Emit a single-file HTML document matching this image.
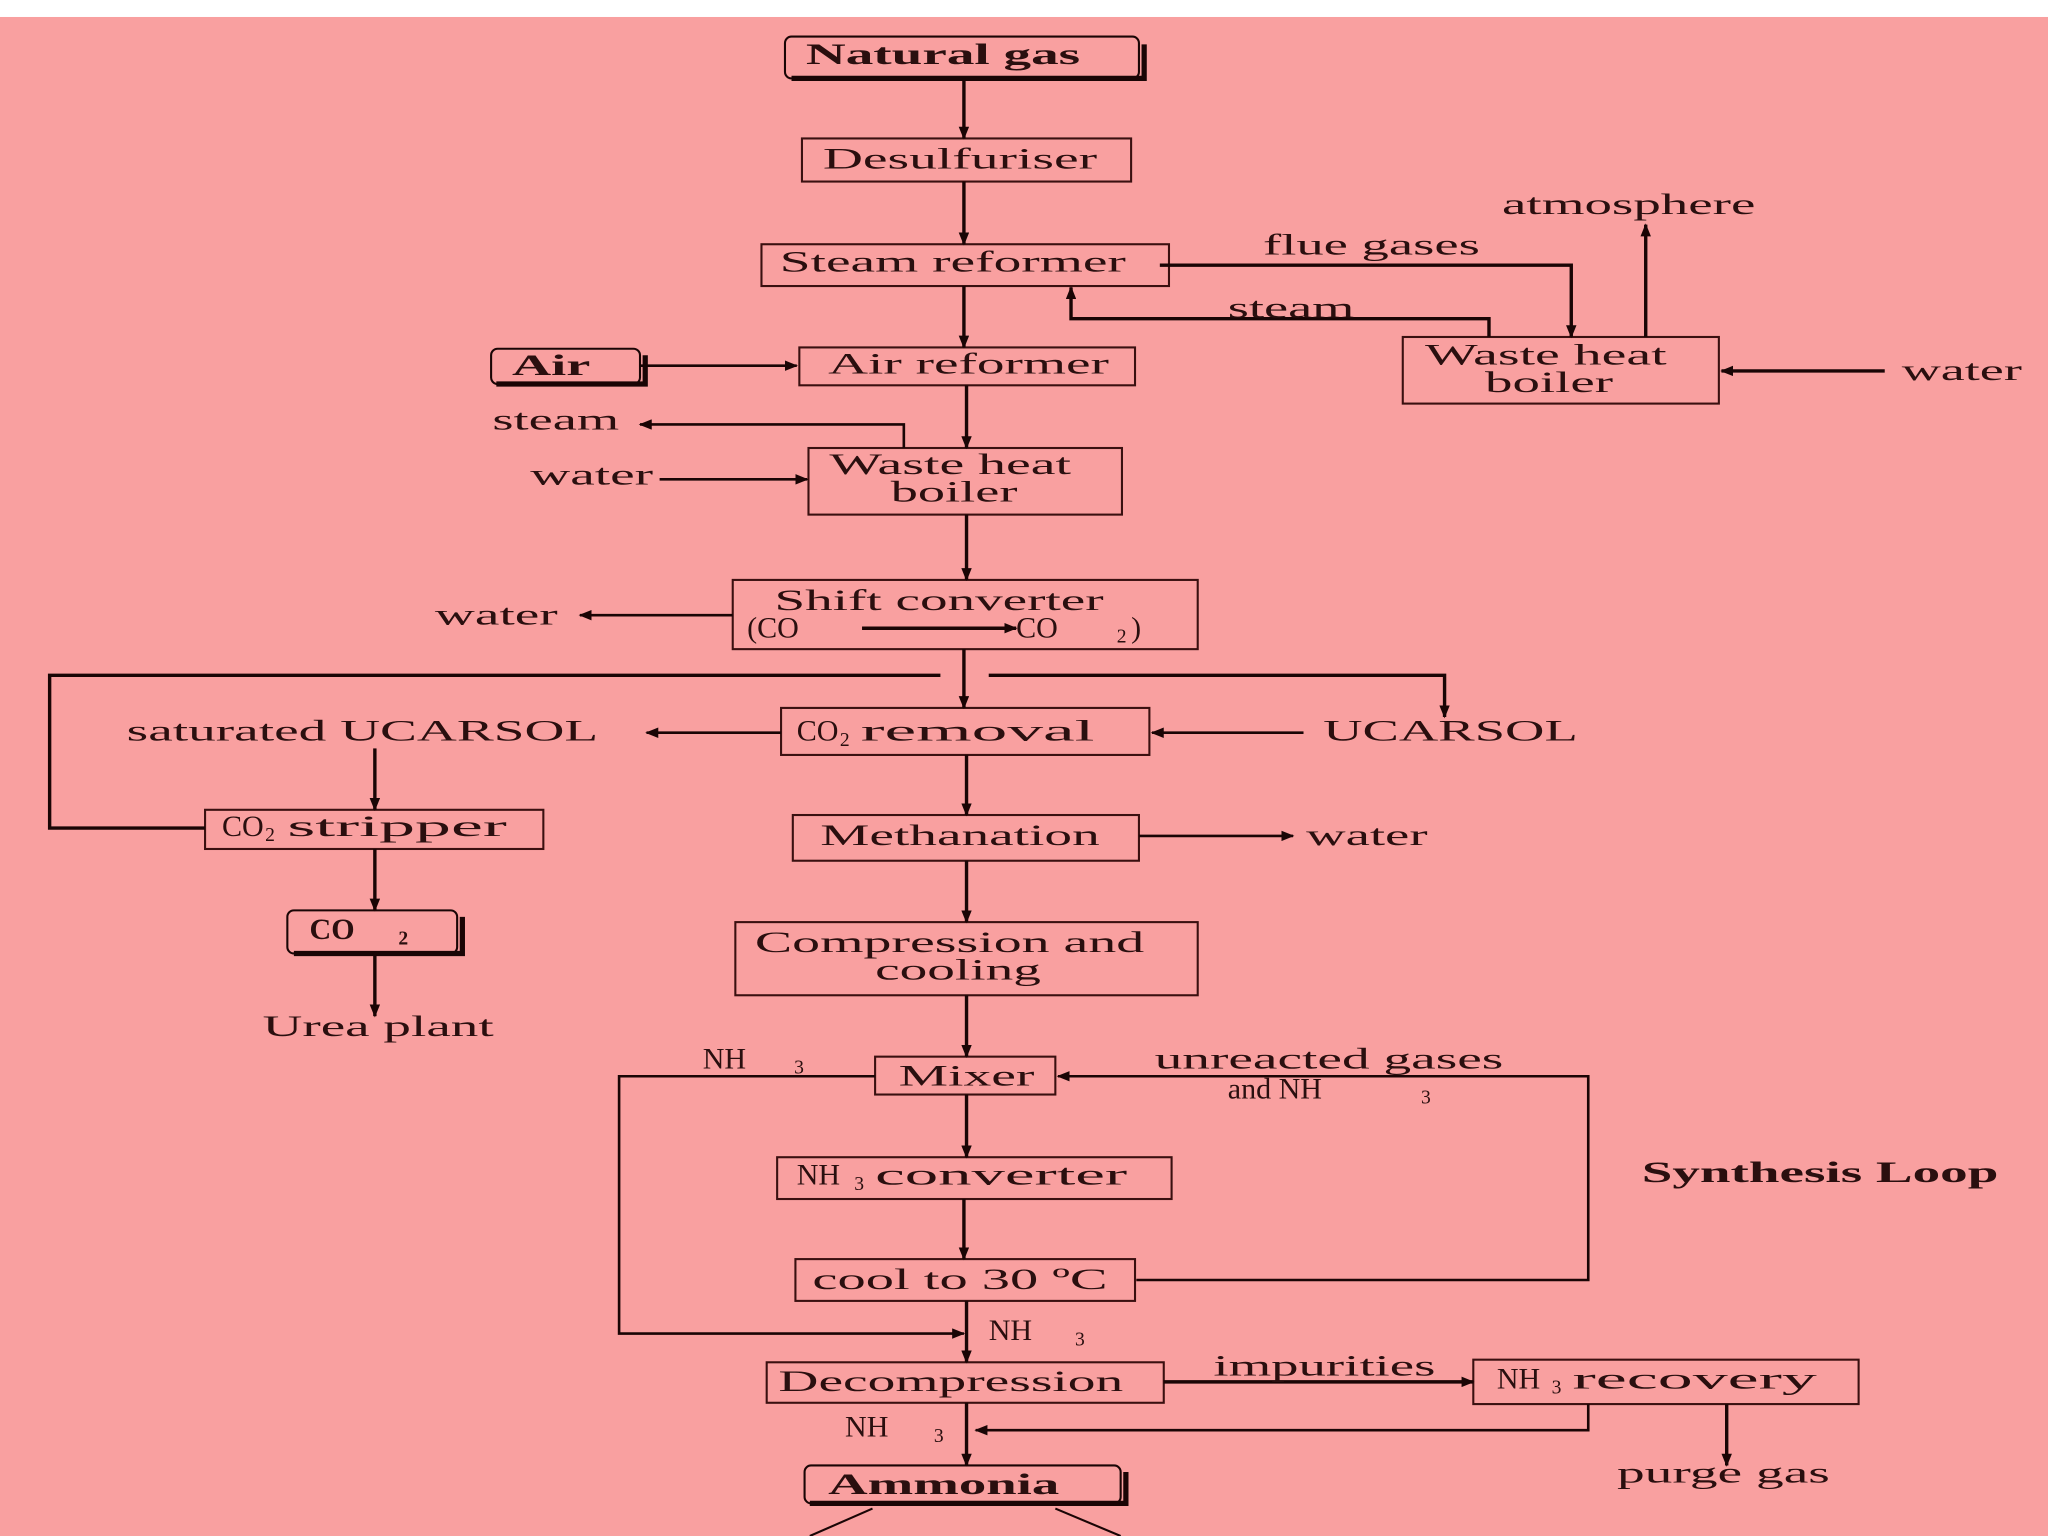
<!DOCTYPE html>
<html><head><meta charset="utf-8"><style>
html,body{margin:0;padding:0;background:#fff;}
svg{display:block;}
text{font-family:"Liberation Serif",serif;font-size:23px;fill:#2a0f0f;}
.b{font-weight:bold;}
.s{font-size:15px;}
</style></head><body>
<svg width="2048" height="1536" viewBox="0 0 1568 1176" xmlns="http://www.w3.org/2000/svg">
<defs>
<marker id="a" markerWidth="10" markerHeight="8" refX="9" refY="4" orient="auto" markerUnits="userSpaceOnUse"><path d="M0,0 L10,4 L0,8 z" fill="#1a0505"/></marker>
</defs>
<rect x="0" y="0" width="1568" height="1176" fill="#fff"/>
<rect x="0" y="13" width="1568" height="1163" fill="#f9a0a0"/>
<g fill="none" stroke="#3a1010" stroke-width="1.6">
<rect x="614" y="106" width="252" height="33"/>
<rect x="583" y="187" width="312" height="32"/>
<rect x="1074" y="258" width="242" height="51"/>
<rect x="612" y="266" width="257" height="29"/>
<rect x="619" y="343" width="240" height="51"/>
<rect x="561" y="444" width="356" height="53"/>
<rect x="598" y="542" width="282" height="36"/>
<rect x="157" y="620" width="259" height="30"/>
<rect x="607" y="624" width="265" height="35"/>
<rect x="563" y="706" width="354" height="56"/>
<rect x="670" y="809" width="138" height="29"/>
<rect x="595" y="886" width="302" height="32"/>
<rect x="609" y="964" width="260" height="32"/>
<rect x="587" y="1043" width="304" height="31"/>
<rect x="1128" y="1041" width="295" height="34"/>
</g>
<!-- rounded shadow boxes -->
<g fill="none" stroke="#1a0505">
<path d="M606,60 L876,60 L876,34" stroke-width="4"/>
<rect x="601" y="28" width="271" height="32" rx="5" stroke-width="1.6"/>
<path d="M380,294 L494,294 L494,272" stroke-width="4"/>
<rect x="376" y="267" width="114" height="27" rx="5" stroke-width="1.6"/>
<path d="M225,730 L354,730 L354,702" stroke-width="4"/>
<rect x="220" y="697" width="130" height="33" rx="5" stroke-width="1.6"/>
<path d="M620,1151 L862,1151 L862,1127" stroke-width="4"/>
<rect x="616" y="1122" width="242" height="29" rx="5" stroke-width="1.6"/>
</g>
<g fill="none" stroke="#1a0505" stroke-width="2.6">
<line x1="738" y1="60" x2="738" y2="106" marker-end="url(#a)"/>
<line x1="738" y1="139" x2="738" y2="187" marker-end="url(#a)"/>
<line x1="738" y1="219" x2="738" y2="266" marker-end="url(#a)"/>
<line x1="740" y1="295" x2="740" y2="343" marker-end="url(#a)"/>
<line x1="740" y1="394" x2="740" y2="444" marker-end="url(#a)"/>
<line x1="738" y1="497" x2="738" y2="542" marker-end="url(#a)"/>
<line x1="740" y1="578" x2="740" y2="624" marker-end="url(#a)"/>
<line x1="740" y1="659" x2="740" y2="706" marker-end="url(#a)"/>
<line x1="740" y1="762" x2="740" y2="809" marker-end="url(#a)"/>
<line x1="740" y1="838" x2="740" y2="886" marker-end="url(#a)"/>
<line x1="738" y1="918" x2="738" y2="964" marker-end="url(#a)"/>
<line x1="740" y1="996" x2="740" y2="1043" marker-end="url(#a)"/>
<line x1="740" y1="1074" x2="740" y2="1122" marker-end="url(#a)"/>
<polyline points="888,203 1203,203 1203,258" marker-end="url(#a)"/>
<polyline points="1140,258 1140,244 820,244 820,220" marker-end="url(#a)"/>
<line x1="1260" y1="258" x2="1260" y2="172" marker-end="url(#a)"/>
<line x1="1443" y1="284" x2="1318" y2="284" marker-end="url(#a)"/>
<line x1="490" y1="280" x2="610" y2="280" marker-end="url(#a)" stroke-width="2"/>
<polyline points="692,343 692,325 490,325" marker-end="url(#a)" stroke-width="2"/>
<line x1="505" y1="367" x2="618" y2="367" marker-end="url(#a)" stroke-width="2"/>
<line x1="561" y1="471" x2="444" y2="471" marker-end="url(#a)" stroke-width="2"/>
<line x1="660" y1="481" x2="778" y2="481" marker-end="url(#a)"/>
<polyline points="720,517 38,517 38,634 157,634"/>
<polyline points="757,517 1106,517 1106,549" marker-end="url(#a)"/>
<line x1="598" y1="561" x2="495" y2="561" marker-end="url(#a)" stroke-width="2"/>
<line x1="998" y1="561" x2="882" y2="561" marker-end="url(#a)" stroke-width="2"/>
<line x1="287" y1="573" x2="287" y2="620" marker-end="url(#a)"/>
<line x1="287" y1="650" x2="287" y2="697" marker-end="url(#a)"/>
<line x1="287" y1="730" x2="287" y2="778" marker-end="url(#a)"/>
<line x1="872" y1="640" x2="990" y2="640" marker-end="url(#a)" stroke-width="2"/>
<polyline points="670,824 474,824 474,1021 738,1021" marker-end="url(#a)" stroke-width="2"/>
<polyline points="870,980 1216,980 1216,824 810,824" marker-end="url(#a)" stroke-width="2"/>
<line x1="891" y1="1058" x2="1128" y2="1058" marker-end="url(#a)"/>
<polyline points="1216,1075 1216,1095 747,1095" marker-end="url(#a)" stroke-width="2"/>
<line x1="1322" y1="1075" x2="1322" y2="1122" marker-end="url(#a)"/>
<line x1="668" y1="1155" x2="620" y2="1176" stroke-width="1.6"/>
<line x1="808" y1="1155" x2="858" y2="1176" stroke-width="1.6"/>
</g>
<g>
<text class="b" x="617" y="49" textLength="210" lengthAdjust="spacingAndGlyphs">Natural gas</text>
<text x="630" y="129" textLength="210" lengthAdjust="spacingAndGlyphs">Desulfuriser</text>
<text x="597" y="208" textLength="265" lengthAdjust="spacingAndGlyphs">Steam reformer</text>
<text x="967" y="195" textLength="166" lengthAdjust="spacingAndGlyphs">flue gases</text>
<text x="940" y="243" textLength="97" lengthAdjust="spacingAndGlyphs">steam</text>
<text x="1150" y="164" textLength="194" lengthAdjust="spacingAndGlyphs">atmosphere</text>
<text x="1091" y="279" textLength="185" lengthAdjust="spacingAndGlyphs">Waste heat</text>
<text x="1137" y="300" textLength="98" lengthAdjust="spacingAndGlyphs">boiler</text>
<text x="1456" y="291" textLength="92" lengthAdjust="spacingAndGlyphs">water</text>
<text class="b" x="392" y="287" textLength="60" lengthAdjust="spacingAndGlyphs">Air</text>
<text x="634" y="286" textLength="215" lengthAdjust="spacingAndGlyphs">Air reformer</text>
<text x="377" y="329" textLength="97" lengthAdjust="spacingAndGlyphs">steam</text>
<text x="406" y="371" textLength="94" lengthAdjust="spacingAndGlyphs">water</text>
<text x="635" y="363" textLength="185" lengthAdjust="spacingAndGlyphs">Waste heat</text>
<text x="682" y="384" textLength="97" lengthAdjust="spacingAndGlyphs">boiler</text>
<text x="593" y="467" textLength="252" lengthAdjust="spacingAndGlyphs">Shift converter</text>
<text x="572" y="488">(CO</text>
<text x="778" y="488">CO</text>
<text x="855" y="492" class="s">2</text><text x="866" y="488">)</text>
<text x="333" y="478" textLength="94" lengthAdjust="spacingAndGlyphs">water</text>
<text x="97" y="567" textLength="361" lengthAdjust="spacingAndGlyphs">saturated UCARSOL</text>
<text x="610" y="567">CO</text><text x="643" y="571" class="s">2</text><text x="659" y="567" textLength="179" lengthAdjust="spacingAndGlyphs">removal</text>
<text x="1013" y="567" textLength="195" lengthAdjust="spacingAndGlyphs">UCARSOL</text>
<text x="170" y="640">CO</text><text x="203" y="644" class="s">2</text><text x="220" y="640" textLength="168" lengthAdjust="spacingAndGlyphs">stripper</text>
<text x="628" y="647" textLength="214" lengthAdjust="spacingAndGlyphs">Methanation</text>
<text x="1000" y="647" textLength="93" lengthAdjust="spacingAndGlyphs">water</text>
<text class="b" x="237" y="719">CO</text><text class="b s" x="305" y="723">2</text>
<text x="201" y="793" textLength="177" lengthAdjust="spacingAndGlyphs">Urea plant</text>
<text x="578" y="729" textLength="298" lengthAdjust="spacingAndGlyphs">Compression and</text>
<text x="670" y="750" textLength="127" lengthAdjust="spacingAndGlyphs">cooling</text>
<text x="538" y="818">NH</text><text x="608" y="822" class="s">3</text>
<text x="688" y="831" textLength="104" lengthAdjust="spacingAndGlyphs">Mixer</text>
<text x="884" y="818" textLength="267" lengthAdjust="spacingAndGlyphs">unreacted gases</text>
<text x="940" y="841">and NH</text><text x="1088" y="845" class="s">3</text>
<text x="610" y="907">NH</text><text x="654" y="911" class="s">3</text><text x="670" y="907" textLength="193" lengthAdjust="spacingAndGlyphs">converter</text>
<text class="b" x="1257" y="905" textLength="273" lengthAdjust="spacingAndGlyphs">Synthesis Loop</text>
<text x="622" y="987" textLength="226" lengthAdjust="spacingAndGlyphs">cool to 30 ºC</text>
<text x="757" y="1026">NH</text><text x="823" y="1030" class="s">3</text>
<text x="596" y="1065" textLength="264" lengthAdjust="spacingAndGlyphs">Decompression</text>
<text x="929" y="1053" textLength="170" lengthAdjust="spacingAndGlyphs">impurities</text>
<text x="1146" y="1063">NH</text><text x="1188" y="1067" class="s">3</text><text x="1204" y="1063" textLength="187" lengthAdjust="spacingAndGlyphs">recovery</text>
<text x="647" y="1100">NH</text><text x="715" y="1104" class="s">3</text>
<text class="b" x="634" y="1144" textLength="177" lengthAdjust="spacingAndGlyphs">Ammonia</text>
<text x="1238" y="1135" textLength="163" lengthAdjust="spacingAndGlyphs">purge gas</text>
</g>
</svg>
</body></html>
